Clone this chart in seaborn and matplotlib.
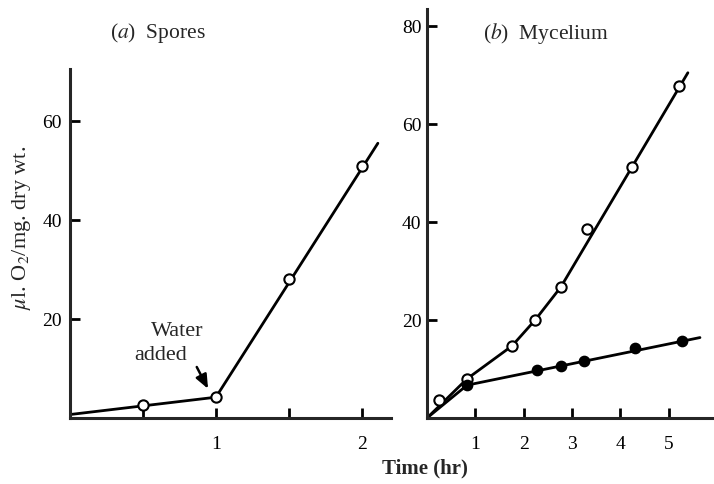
import matplotlib
matplotlib.use("Agg")
import matplotlib.pyplot as plt
import seaborn as sns

# (a) Spores: measured points and the fitted line knots
spore_time = [0.5, 1.0, 1.5, 2.0]
spore_o2 = [2.6, 4.2, 28.0, 51.0]
spore_fit_time = [0.0, 1.0, 2.11]
spore_fit_o2 = [0.7, 4.2, 55.5]

# (b) Mycelium: open circles (upper curve) and filled circles (lower curve)
myc_open_time = [0.25, 0.83, 1.76, 2.24, 2.77, 3.31, 4.24, 5.22]
myc_open_o2 = [3.7, 8.0, 14.7, 20.0, 26.7, 38.6, 51.2, 67.8]
myc_open_fit_time = [0.0, 0.83, 1.76, 2.24, 2.77, 5.4]
myc_open_fit_o2 = [0.0, 8.0, 14.7, 20.0, 26.7, 70.4]

myc_fill_time = [0.83, 2.28, 2.77, 3.25, 4.31, 5.28]
myc_fill_o2 = [6.7, 9.7, 10.7, 11.6, 14.3, 15.8]
myc_fill_fit_time = [0.0, 0.83, 5.65]
myc_fill_fit_o2 = [0.0, 6.7, 16.4]

spore_xticks = [0.5, 1.0, 1.5, 2.0]
spore_xticklabels = ["", "1", "", "2"]
spore_yticks = [20, 40, 60]
myc_xticks = [1, 2, 3, 4, 5]
myc_yticks = [20, 40, 60, 80]

sns.set_style("ticks")
plt.rcParams["font.family"] = ["Liberation Serif", "DejaVu Serif"]
plt.rcParams["mathtext.fontset"] = "stix"

fig = plt.figure(figsize=(7.14, 4.85), dpi=100)
W, H = 714, 485


def px_axes(x0, x1, ytop, ybot):
    return fig.add_axes([x0 / W, 1 - ybot / H, (x1 - x0) / W, (ybot - ytop) / H])


ax1 = px_axes(70, 391, 70, 419)
ax2 = px_axes(427, 713, 10, 419)

line_kw = dict(color="black", linewidth=2.0, sort=False, estimator=None)
open_kw = dict(color="white", edgecolor="black", linewidth=1.5, s=55, zorder=5)
fill_kw = dict(color="black", edgecolor="black", linewidth=1.0, s=55, zorder=5)

# panel (a)
sns.lineplot(x=spore_fit_time, y=spore_fit_o2, ax=ax1, **line_kw)
sns.scatterplot(x=spore_time, y=spore_o2, ax=ax1, **open_kw)

# panel (b)
sns.lineplot(x=myc_open_fit_time, y=myc_open_fit_o2, ax=ax2, **line_kw)
sns.lineplot(x=myc_fill_fit_time, y=myc_fill_fit_o2, ax=ax2, **line_kw)
sns.scatterplot(x=myc_open_time, y=myc_open_o2, ax=ax2, **open_kw)
sns.scatterplot(x=myc_fill_time, y=myc_fill_o2, ax=ax2, **fill_kw)

ax1.set_xlim(0, 2.2)
ax1.set_ylim(0, 70.5)
ax2.set_xlim(0, 5.92)
ax2.set_ylim(0, 83.4)

ax1.set_xticks(spore_xticks)
ax1.set_xticklabels(spore_xticklabels)
ax1.set_yticks(spore_yticks)
ax2.set_xticks(myc_xticks)
ax2.set_yticks(myc_yticks)

for ax in (ax1, ax2):
    sns.despine(ax=ax)
    for side in ("left", "bottom"):
        ax.spines[side].set_linewidth(2.2)
    ax.tick_params(axis="both", direction="in", length=7, width=2,
                   labelsize=14, colors="black")
    ax.tick_params(axis="x", pad=12)
    ax.set_xlabel("")
    ax.set_ylabel("")
    ax.set_facecolor("white")
ax1.tick_params(axis="y", pad=6)
ax2.tick_params(axis="y", pad=4)

# "Water added" note with arrow
ax1.text(0.735, 17.6, "Water", fontsize=16, ha="center", va="center")
ax1.text(0.62, 12.8, "added", fontsize=16, ha="center", va="center")
ax1.annotate("", xy=(0.955, 5.4), xytext=(0.86, 10.8),
             arrowprops=dict(arrowstyle="-|>,head_length=0.6,head_width=0.25",
                             color="black", lw=1.8, mutation_scale=14))

# panel titles, shared axis labels
fig.text(110 / W, 1 - 33 / H, r"($\mathit{a}$)  Spores", fontsize=15.5,
         ha="left", va="center")
fig.text(483 / W, 1 - 33 / H, r"($\mathit{b}$)  Mycelium", fontsize=15.5,
         ha="left", va="center")
fig.text(22 / W, 1 - 228 / H, r"$\mathit{\mu}$l. O$_2$/mg. dry wt.", fontsize=16,
         rotation=90, ha="center", va="center")
fig.text(425 / W, 1 - 468 / H, "Time (hr)", fontsize=15, fontweight="bold",
         ha="center", va="center")

fig.savefig("out.png", dpi=100, facecolor="white")
